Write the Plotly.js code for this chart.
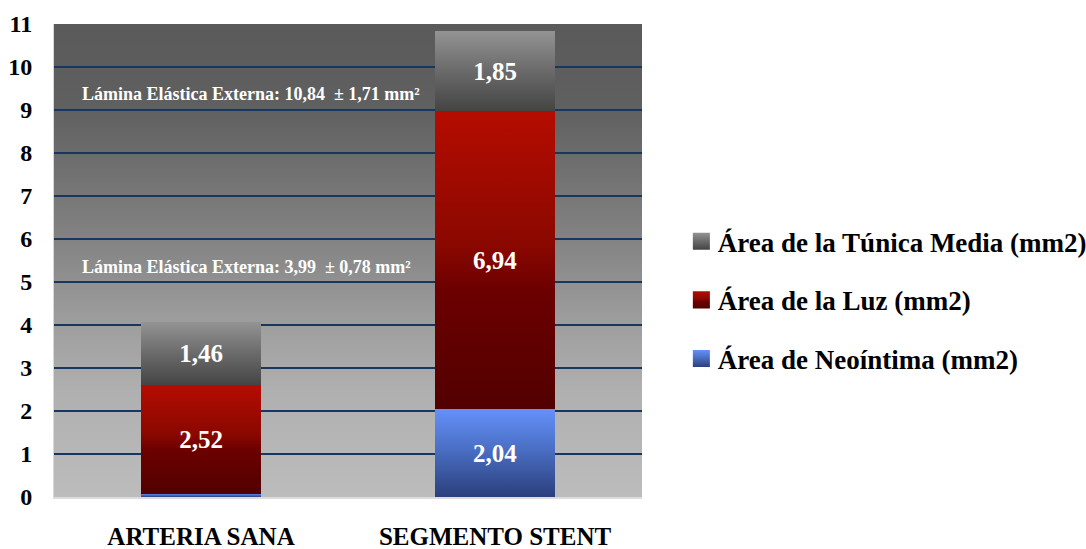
<!DOCTYPE html>
<html>
<head>
<meta charset="utf-8">
<script src="https://cdn.plot.ly/plotly-3.0.1.min.js"></script>
<style>
  html, body { margin: 0; padding: 0; background: #ffffff; }
  #chart { width: 1086px; height: 549px; }
</style>
</head>
<body>
<div id="chart"></div>
<script>
// Categories and stacked areas (mm²)
const categories = ['ARTERIA SANA', 'SEGMENTO STENT'];
const neointima = [0.08, 2.04];
const luz = [2.52, 6.94];
const tunicaMedia = [1.46, 1.85];

const seriesNames = ['Área de Neoíntima (mm2)', 'Área de la Luz (mm2)', 'Área de la Túnica Media (mm2)'];
// Legend lists the top segment first
const legendRanks = [3, 2, 1];

// External elastic lamina summary (mean ± sd)
const leeMean = ['3,99', '10,84'];
const leeSd = ['0,78', '1,71'];
const leeLabelY = [5.35, 9.37];

const serif = 'Liberation Serif, Times New Roman, serif';
const fmt = v => v.toFixed(2).replace('.', ',');

function barTrace(i, values, showText) {
  return {
    type: 'bar',
    name: seriesNames[i],
    x: categories,
    y: values,
    text: values.map(fmt),
    textposition: showText,
    insidetextanchor: 'middle',
    textangle: 0,
    textfont: { family: serif, size: 25, color: '#ffffff', weight: 'bold' },
    marker: { color: '#888888', line: { width: 0 } },
    hoverinfo: 'none',
    legendgroup: seriesNames[i],
    legendrank: legendRanks[i]
  };
}

const traces = [
  barTrace(0, neointima, ['none', 'inside']),
  barTrace(1, luz, ['inside', 'inside']),
  barTrace(2, tunicaMedia, ['inside', 'inside'])
];

const annotations = leeMean.map((m, i) => ({
  xref: 'paper', yref: 'y',
  x: 0.044, y: leeLabelY[i],
  xanchor: 'left', yanchor: 'middle',
  text: 'Lámina Elástica Externa: ' + m + '  ± ' + leeSd[i] + ' mm²',
  showarrow: false,
  font: { family: serif, size: 18, color: '#ffffff', weight: 'bold' }
}));

const layout = {
  width: 1086, height: 549,
  margin: { l: 54, r: 444, t: 24, b: 52, autoexpand: false },
  paper_bgcolor: '#ffffff',
  plot_bgcolor: '#a0a0a0',
  barmode: 'stack',
  bargap: 0.59,
  showlegend: true,
  legend: {
    x: 1.061, xanchor: 'left',
    y: 0.416, yanchor: 'middle',
    traceorder: 'grouped',
    tracegroupgap: 20.5,
    bgcolor: 'rgba(0,0,0,0)',
    font: { family: serif, size: 27, color: '#000000', weight: 'bold' }
  },
  xaxis: {
    type: 'category',
    showgrid: false,
    zeroline: false,
    showline: true, linecolor: '#dcdcdc', linewidth: 2,
    ticks: '',
    ticklabelstandoff: 16,
    tickfont: { family: serif, size: 25, color: '#000000', weight: 'bold' }
  },
  yaxis: {
    range: [0, 11],
    tickmode: 'linear', tick0: 0, dtick: 1,
    showgrid: true, gridcolor: '#17375e', gridwidth: 2,
    zeroline: false,
    showline: true, linecolor: '#d8d8d8', linewidth: 1,
    ticks: '',
    ticklabelstandoff: 16,
    tickfont: { family: serif, size: 24, color: '#000000', weight: 'bold' }
  },
  annotations: annotations
};

// Vertical gradients: plot background and each series
const gradients = {
  gbg: [[0, '#5a5a5a'], [0.18, '#606060'], [0.45, '#828282'], [0.62, '#9c9c9c'], [0.78, '#b0b0b0'], [1, '#bcbcbc']],
  g0: [[0, '#6490fa'], [0.45, '#4a6fc4'], [1, '#2b3f7c']],
  g1: [[0, '#b50c00'], [0.45, '#8a0800'], [0.6, '#6c0000'], [1, '#520000']],
  g2: [[0, '#939393'], [0.5, '#6a6a6a'], [1, '#444444']]
};

function applyGradients(gd) {
  const ns = 'http://www.w3.org/2000/svg';
  const svg = gd.querySelector('svg.main-svg');
  let defs = svg.querySelector('defs');
  if (!defs) { defs = document.createElementNS(ns, 'defs'); svg.insertBefore(defs, svg.firstChild); }
  Object.keys(gradients).forEach(id => {
    const lg = document.createElementNS(ns, 'linearGradient');
    lg.setAttribute('id', id);
    lg.setAttribute('x1', '0'); lg.setAttribute('y1', '0');
    lg.setAttribute('x2', '0'); lg.setAttribute('y2', '1');
    gradients[id].forEach(([o, c]) => {
      const s = document.createElementNS(ns, 'stop');
      s.setAttribute('offset', o);
      s.setAttribute('stop-color', c);
      lg.appendChild(s);
    });
    defs.appendChild(lg);
  });

  const bg = gd.querySelector('.bglayer rect.bg') || gd.querySelector('rect.bg');
  if (bg) bg.style.fill = 'url(#gbg)';

  gd.querySelectorAll('.barlayer .trace').forEach((tr, i) => {
    tr.querySelectorAll('.point path').forEach(p => { p.style.fill = 'url(#g' + i + ')'; });
  });

  gd.querySelectorAll('.legend .traces').forEach(el => {
    const d = el.__data__;
    const idx = d && d[0] && d[0].trace ? d[0].trace.index : 0;
    el.querySelectorAll('.legendpoints path').forEach(p => {
      p.style.fill = 'url(#g' + idx + ')';
      p.setAttribute('transform', 'translate(23.5,0) scale(1.42)');
    });
  });
}

const gd = document.getElementById('chart');
Plotly.newPlot(gd, traces, layout, { staticPlot: true, displayModeBar: false })
  .then(() => applyGradients(gd));
</script>
</body>
</html>
